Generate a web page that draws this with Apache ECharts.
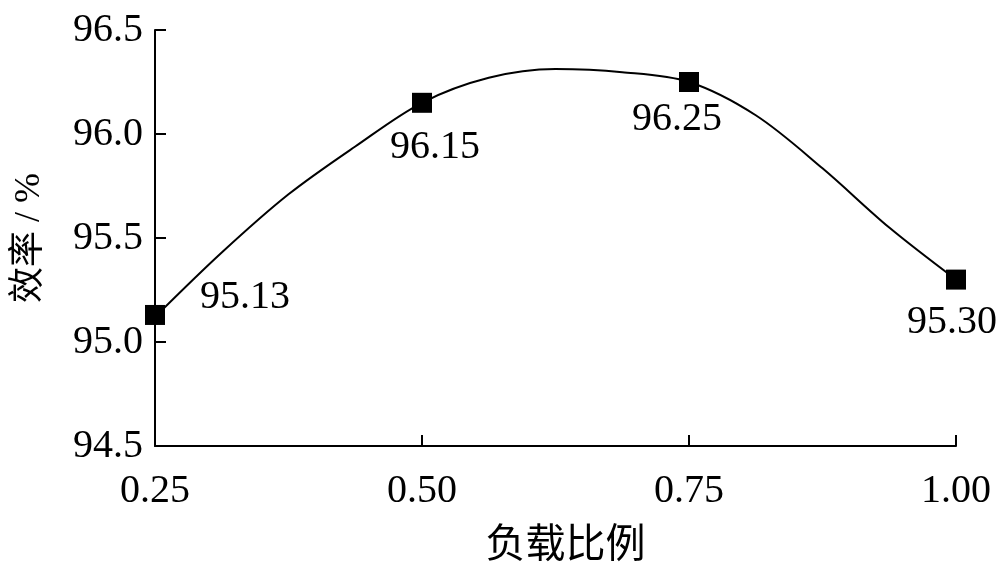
<!DOCTYPE html>
<html>
<head>
<meta charset="utf-8">
<script src="https://cdn.jsdelivr.net/npm/echarts@6/dist/echarts.min.js"></script>
<style>html,body{margin:0;padding:0;background:#fff}#c{width:1000px;height:566px}</style>
</head>
<body>
<div id="c"></div>
<script>
// measured points
const loadRatio = [0.25, 0.50, 0.75, 1.00];
const efficiency = [95.13, 96.15, 96.25, 95.30];
const labelOffsets = [[90, -17], [13, 45], [-12, 37], [-4, 43]];
// fitted curve
const curveX = [0.25, 0.3125, 0.375, 0.4375, 0.50, 0.5625, 0.625, 0.6875, 0.75, 0.8125, 0.875, 0.9375, 1.00];
const curveY = [95.12, 95.43, 95.71, 95.94, 96.15, 96.27, 96.312, 96.297, 96.25, 96.09, 95.835, 95.55, 95.30];
const xTicks = ['0.25', '0.50', '0.75', '1.00'];
const xName = '负载比例';
const yName = '效率 / %';

const serif = '"Liberation Serif", "Times New Roman", serif';
const cjk = '"Liberation Serif", "Noto Sans CJK SC", serif';

const chart = echarts.init(document.getElementById('c'), null, {renderer: 'canvas'});
chart.setOption({
  animation: false,
  backgroundColor: '#fff',
  grid: {left: 155, right: 44, top: 30, bottom: 120, containLabel: false, outerBoundsMode: 'none'},
  xAxis: {
    type: 'value', min: 0.25, max: 1.0, interval: 0.25,
    name: xName, nameLocation: 'middle', nameGap: 80,
    nameTextStyle: {fontFamily: cjk, fontSize: 40, color: '#000', padding: [0, 0, 0, 20]},
    axisLine: {onZero: false, lineStyle: {color: '#000', width: 2}},
    axisTick: {inside: true, length: 11, lineStyle: {color: '#000', width: 2}},
    axisLabel: {fontFamily: serif, fontSize: 40, color: '#000', margin: 25,
      formatter: v => xTicks[Math.round((v - 0.25) / 0.25)] ?? ''},
    splitLine: {show: false}
  },
  yAxis: {
    type: 'value', min: 94.5, max: 96.5, interval: 0.5,
    name: yName, nameLocation: 'middle', nameGap: 107, nameRotate: 90,
    nameTextStyle: {fontFamily: cjk, fontSize: 36, color: '#000'},
    axisLine: {onZero: false, lineStyle: {color: '#000', width: 2}},
    axisTick: {inside: true, length: 11, lineStyle: {color: '#000', width: 2}},
    axisLabel: {fontFamily: serif, fontSize: 40, color: '#000', margin: 12,
      formatter: v => v.toFixed(1)},
    splitLine: {show: false}
  },
  series: [{
    type: 'line',
    smooth: 0.33,
    data: curveX.map((x, i) => [x, curveY[i]]),
    showSymbol: false, symbol: 'none',
    lineStyle: {color: '#000', width: 2},
    silent: true, z: 1
  }, {
    type: 'scatter',
    data: loadRatio.map((x, i) => ({
      value: [x, efficiency[i]],
      label: {offset: labelOffsets[i]}
    })),
    symbol: 'rect', symbolSize: 20,
    itemStyle: {color: '#000', opacity: 1},
    z: 3,
    label: {show: true, position: 'inside', fontFamily: serif, fontSize: 40, color: '#000',
      formatter: p => p.value[1].toFixed(2)}
  }]
});
</script>
</body>
</html>
